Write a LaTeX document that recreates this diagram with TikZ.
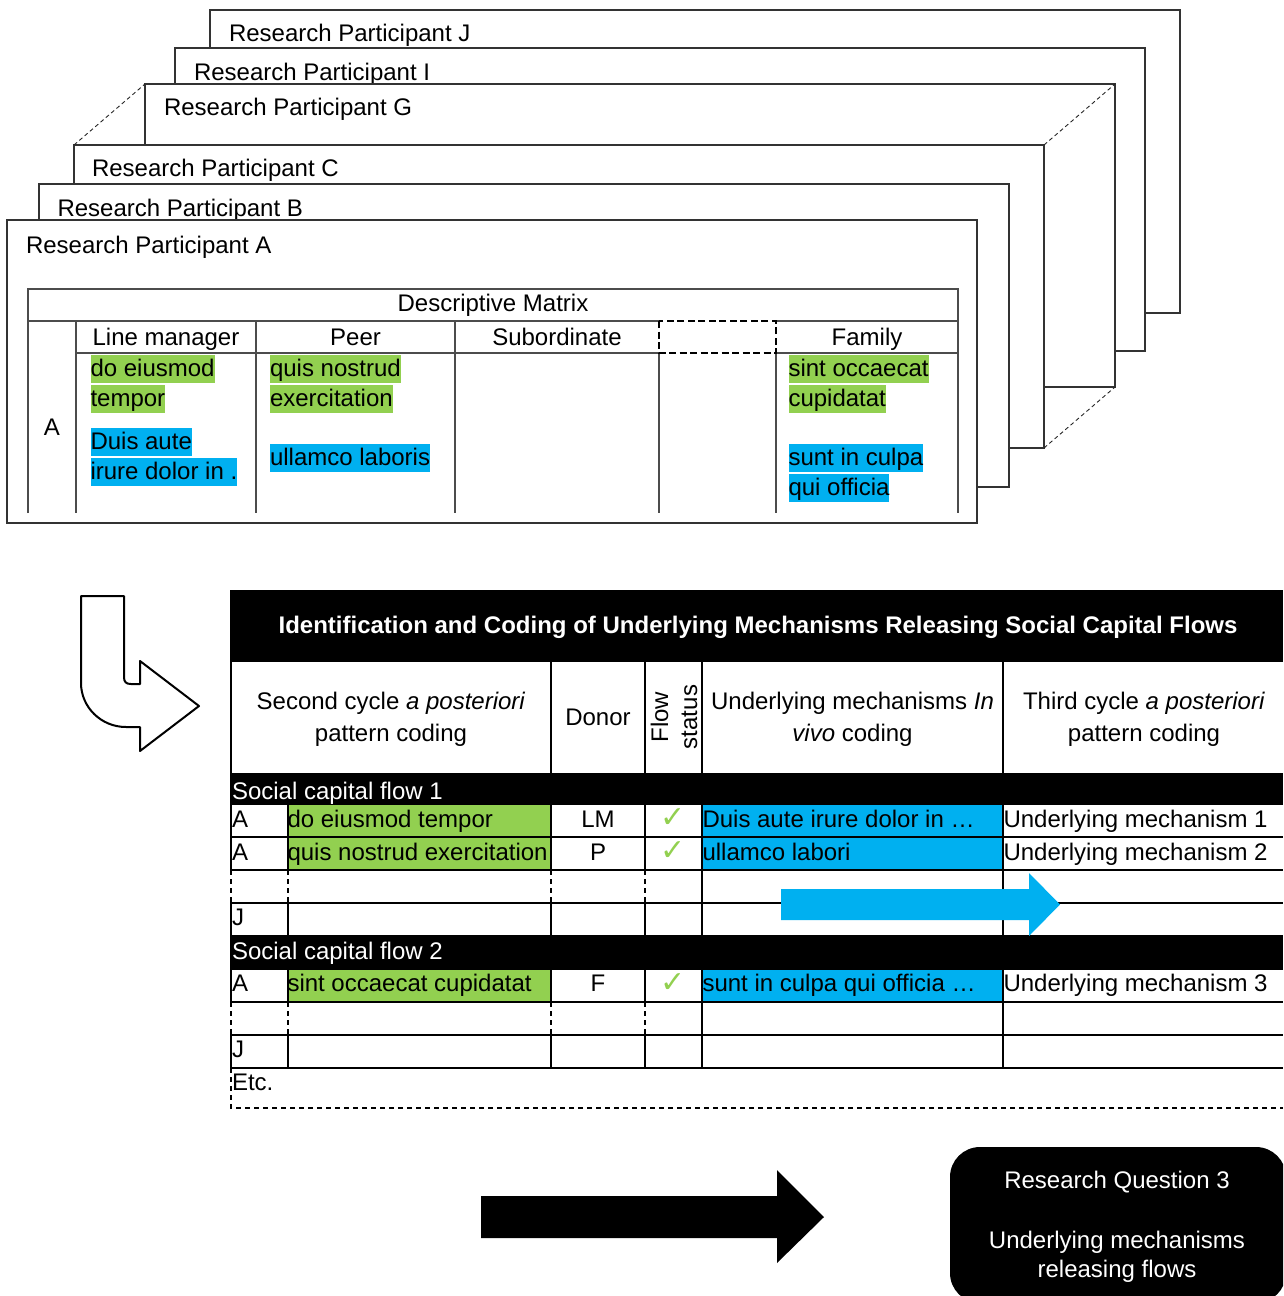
\documentclass[tikz,border=0pt]{standalone}
\usepackage{fontspec}
\setmainfont{Liberation Sans}
\newfontfamily\symfont{DejaVu Sans}
\definecolor{leafgreen}{HTML}{92D050}
\definecolor{skyblue}{HTML}{00B0F0}
\begin{document}
\begin{tikzpicture}[x=1pt,y=-1pt,
  every node/.style={inner sep=0pt, outer sep=0pt, font=\fontsize{24}{29}\selectfont},
  sheet/.style={draw=black!80, line width=1.4pt, fill=white, minimum width=970pt,
    minimum height=303pt, anchor=north west},
  link/.style={draw=black!85, line width=0.9pt, dash pattern=on 4pt off 3pt},
  grid/.style={draw=black!70, line width=1.4pt},
  gap/.style={draw=black, line width=2.6pt, dash pattern=on 7pt off 3.5pt},
  txt/.style={anchor=base west},
  ctxt/.style={anchor=base},
  head/.style={anchor=base, align=center, font=\fontsize{24}{32}\selectfont},
  hl/.style={anchor=base west, text height=21.5pt, text depth=6.5pt},
  hlg/.style={hl, fill=leafgreen},
  hlb/.style={hl, fill=skyblue},
  rule/.style={draw=black, line width=2.5pt},
  dotrule/.style={draw=black, line width=2.5pt, dash pattern=on 5pt off 4pt},
  tick/.style={text=leafgreen, font=\symfont\fontsize{30}{32}\selectfont},
  wtxt/.style={anchor=base west, text=white},
]
\useasboundingbox (0,0) rectangle (1283,1296);
\clip (0,0) rectangle (1283,1296);

% ---------- stack of participant sheets (back to front) ----------
\node[sheet] (fJ) at (210,10) {};
\node[txt] (lJ) at (229,41.7) {Research Participant J};
\node[sheet] (fI) at (175,48) {};
\node[txt] (lI) at (194,80) {Research Participant I};
\node[sheet] (fG) at (145,84) {};
\node[txt] (lG) at (164,115.7) {Research Participant G};
\node[sheet] (fC) at (74,145) {};
\node[txt] (lC) at (92,176.7) {Research Participant C};
\draw[link] (fC.north west) -- (fG.north west);
\draw[link] (fC.north east) -- (fG.north east);
\draw[link] (fC.south east) -- (fG.south east);
\node[sheet] (fB) at (39,184) {};
\node[txt] (lB) at (57.5,216.7) {Research Participant B};
\node[sheet] (fA) at (7,220) {};
\node[txt] (lA) at (26,253.3) {Research Participant A};

% ---------- descriptive matrix on sheet A ----------
\draw[grid] (28,513) -- (28,289) -- (958,289) -- (958,513);
\draw[grid] (28,321) -- (659,321) (776,321) -- (958,321);
\draw[grid] (76,353) -- (659,353) (776,353) -- (958,353);
\draw[grid] (76,321) -- (76,513);
\draw[grid] (256,321) -- (256,513);
\draw[grid] (455,321) -- (455,513);
\draw[grid] (659,353) -- (659,513);
\draw[grid] (776,353) -- (776,513);
\draw[gap] (659,321) rectangle (776,353);

\node[ctxt] (dm) at (493,311.7) {Descriptive Matrix};
\node[ctxt] (hLM) at (166,345) {Line manager};
\node[ctxt] (hP) at (355.5,345) {Peer};
\node[ctxt] (hS) at (557,345) {Subordinate};
\node[ctxt] (hF) at (867,345) {Family};
\node[ctxt] (rA) at (52,435) {A};

\node[hlg] (m1) at (90.5,376.7) {do eiusmod};
\node[hlg] (m2) at (90.5,406) {tempor};
\node[hlb] (m3) at (90.5,449) {Duis aute};
\node[hlb] (m4) at (90.5,479) {irure dolor in .};
\node[hlg] (m5) at (270,376.7) {quis nostrud};
\node[hlg] (m6) at (270,406) {exercitation};
\node[hlb] (m7) at (270,465) {ullamco laboris};
\node[hlg] (m8) at (788.5,376.7) {sint occaecat};
\node[hlg] (m9) at (788.5,406) {cupidatat};
\node[hlb] (m10) at (788.5,465) {sunt in culpa};
\node[hlb] (m11) at (788.5,495) {qui officia};

% ---------- bent hollow arrow ----------
\draw[fill=white, line width=2pt, line join=round]
  (81,596) -- (124,596) -- (124,677) .. controls (124,682) and (126,684) .. (131,684)
  -- (140,684) -- (140,661) -- (199,706) -- (140,751) -- (140,727) -- (126,727)
  .. controls (101,727) and (81,707) .. (81,683) -- cycle;

% ---------- coding table ----------
\fill[black] (230,590) rectangle (1283,662);
\node[ctxt, text=white, font=\bfseries\fontsize{24}{29}\selectfont] (title) at (758,633)
  {Identification and Coding of Underlying Mechanisms Releasing Social Capital Flows};

% header row
\draw[rule] (231,662) -- (231,773);
\draw[rule] (551,662) -- (551,773);
\draw[rule] (645,662) -- (645,773);
\draw[rule] (702,662) -- (702,773);
\draw[rule] (1003,662) -- (1003,773);
\node[head] (h1) at (391,741) {Second cycle \textit{a posteriori}\\pattern coding};
\node[ctxt] (h2) at (598,725.5) {Donor};
\node[rotate=90, align=center] (h3) at (674,717) {Flow\\status};
\node[head] (h4) at (852.5,741) {Underlying mechanisms \textit{In}\\\textit{vivo} coding};
\node[head] (h5) at (1144,741) {Third cycle \textit{a posteriori}\\pattern coding};

% coloured cells
\fill[leafgreen] (288,805) rectangle (551,870);
\fill[skyblue] (702,805) rectangle (1003,870);
\fill[leafgreen] (288,970) rectangle (551,1002);
\fill[skyblue] (702,970) rectangle (1003,1002);

% flow bands
\fill[black] (230,773) rectangle (1283,805);
\fill[black] (230,935) rectangle (1283,970);

% horizontal rules
\foreach \yy in {837,870,903,1002,1035,1068}
  \draw[rule] (230,\yy) -- (1283,\yy);

% vertical rules
\foreach \xx in {231,288,551,645,702,1003} {
  \draw[rule] (\xx,805) -- (\xx,870);
  \draw[rule] (\xx,903) -- (\xx,935);
  \draw[rule] (\xx,970) -- (\xx,1002);
  \draw[rule] (\xx,1035) -- (\xx,1068);
}
\foreach \xx in {231,288,551,645} {
  \draw[dotrule] (\xx,870) -- (\xx,903);
  \draw[dotrule] (\xx,1002) -- (\xx,1035);
}
\foreach \xx in {702,1003} {
  \draw[rule] (\xx,870) -- (\xx,903);
  \draw[rule] (\xx,1002) -- (\xx,1035);
}
\draw[dotrule] (231,1068) -- (231,1108) -- (1283,1108);

% table text
\node[wtxt] (f1) at (232,799.3) {Social capital flow 1};
\node[txt] (r1a) at (232,827.3) {A};
\node[txt] (r1b) at (287.5,827.3) {do eiusmod tempor};
\node[ctxt] (r1c) at (598,827.3) {LM};
\node[tick] (r1d) at (673,818) {✓};
\node[txt] (r1e) at (702.5,827.3) {Duis aute irure dolor in …};
\node[txt] (r1f) at (1003.5,827.3) {Underlying mechanism 1};

\node[txt] (r2a) at (232,860) {A};
\node[txt] (r2b) at (287.5,860) {quis nostrud exercitation};
\node[ctxt] (r2c) at (598,860) {P};
\node[tick] (r2d) at (673,851) {✓};
\node[txt] (r2e) at (702.5,860) {ullamco labori};
\node[txt] (r2f) at (1003.5,860) {Underlying mechanism 2};

\node[txt] (r4a) at (232,925.7) {J};

\node[wtxt] (f2) at (232,959.3) {Social capital flow 2};
\node[txt] (r5a) at (232,991.7) {A};
\node[txt] (r5b) at (287.5,991.7) {sint occaecat cupidatat};
\node[ctxt] (r5c) at (598,991.7) {F};
\node[tick] (r5d) at (673,983) {✓};
\node[txt] (r5e) at (702.5,991.7) {sunt in culpa qui officia …};
\node[txt] (r5f) at (1003.5,991.7) {Underlying mechanism 3};

\node[txt] (r7a) at (232,1057) {J};
\node[txt] (etc) at (232,1090.7) {Etc.};

% blue block arrow across the columns
\fill[skyblue] (781,889) -- (1029,889) -- (1029,873) -- (1060,904.5) -- (1029,936)
  -- (1029,920) -- (781,920) -- cycle;

% ---------- result ----------
\fill[black] (481,1196) -- (777,1196) -- (777,1170) -- (824,1217) -- (777,1263)
  -- (777,1238) -- (481,1238) -- cycle;
\node[fill=black, rounded corners=30pt, minimum width=336pt, minimum height=156pt,
  anchor=north west] (rq) at (950,1147) {};
\node[ctxt, text=white] (rq1) at (1117,1188.3) {Research Question 3};
\node[ctxt, text=white] (rq2) at (1117,1248.3) {Underlying mechanisms};
\node[ctxt, text=white] (rq3) at (1117,1277) {releasing flows};
\end{tikzpicture}
\end{document}
